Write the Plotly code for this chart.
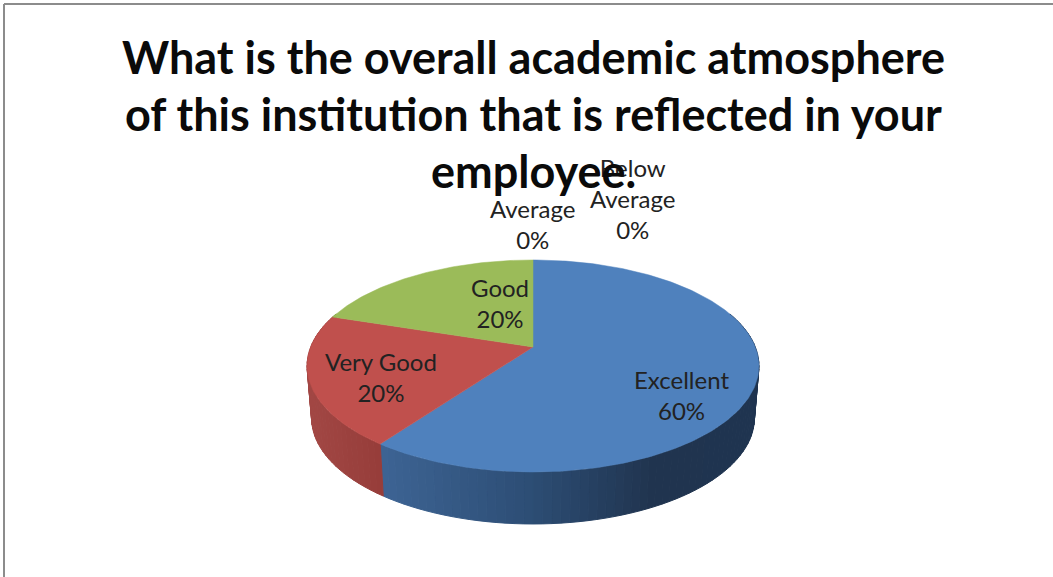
import math
import plotly.graph_objects as go

# --- data ---
categories = ["Excellent", "Very Good", "Good", "Average", "Below Average"]
values = [60, 20, 20, 0, 0]
title_lines = [
    "What is the overall academic atmosphere",
    "of this institution that is reflected in your",
    "employee.",
]
label_lines = [["Excellent"], ["Very Good"], ["Good"], ["Average"], ["Below", "Average"]]

# --- styles and layout ---
W, H = 1053, 577
top_colors = ["#4f81bd", "#c0504d", "#9bbb59", "#8064a2", "#4bacc6"]
side_stops = [
    [(0.0, "#3d6494"), (0.40, "#2d4d74"), (0.72, "#20344f"), (1.0, "#1f3450")],
    [(0.0, "#a24744"), (1.0, "#963d3a")],
    [(0.0, "#7d9648"), (1.0, "#7d9648")],
    [(0.0, "#665082"), (1.0, "#665082")],
    [(0.0, "#3c8a9f"), (1.0, "#3c8a9f")],
]
label_xy = [(681, 395), (381, 377), (500, 303), (532, 224), (632, 198)]
TITLE_Y = [57, 114, 171]
TITLE_SIZE = 45
LABEL_SIZE = 24
CX, CY = 533, 347
A, B, K = 222.3, 102.6, 0.179
DEPTH, BOTTOM_SCALE = 52, 0.98


def project(theta, depth=0.0, scale=1.0):
    """theta in degrees clockwise from 12 o'clock, on a tilted disc."""
    X, Y = math.sin(math.radians(theta)), math.cos(math.radians(theta))
    w = 1 + K * Y
    return CX + scale * A * X / w, CY + depth - B * Y / w


def hex_mix(stops, t):
    t = max(0.0, min(1.0, t))
    for (t0, c0), (t1, c1) in zip(stops, stops[1:]):
        if t <= t1:
            f = (t - t0) / (t1 - t0) if t1 > t0 else 0
            rgb = [
                round(int(c0[i:i + 2], 16) * (1 - f) + int(c1[i:i + 2], 16) * f)
                for i in (1, 3, 5)
            ]
            return "rgb(%d,%d,%d)" % tuple(rgb)
    return stops[-1][1]


total = sum(values)
spans = []
start = 0.0
for v in values:
    end = start + 360.0 * v / total
    spans.append((start, end))
    start = end

fig = go.Figure()

# wall of the pie, as narrow strips so the shading can run across it
STEP = 2.0
for i, (a0, a1) in enumerate(spans):
    if a1 <= a0:
        continue
    n = max(1, int((a1 - a0) / STEP))
    angles = [a0 + (a1 - a0) * j / n for j in range(n + 1)]
    front = [a for a in angles if math.cos(math.radians(a)) < 0.35]
    if len(front) < 2:
        continue
    xs_front = [project(a)[0] for a in front]
    lo, hi = min(xs_front), max(xs_front)
    for p, q in zip(front, front[1:]):
        x0, y0 = project(p)
        x1, y1 = project(q)
        x2, y2 = project(q, DEPTH, BOTTOM_SCALE)
        x3, y3 = project(p, DEPTH, BOTTOM_SCALE)
        col = hex_mix(side_stops[i], ((x0 + x1) / 2 - lo) / (hi - lo))
        fig.add_trace(go.Scatter(
            x=[x0, x1, x2, x3, x0], y=[y0, y1, y2, y3, y0],
            mode="lines", fill="toself", fillcolor=col,
            line=dict(color=col, width=1), hoverinfo="skip", showlegend=False,
        ))

# top face
for i, (a0, a1) in enumerate(spans):
    if a1 <= a0:
        continue
    n = max(2, int((a1 - a0) / 1.0))
    pts = [project(a0 + (a1 - a0) * j / n) for j in range(n + 1)]
    xs = [CX] + [p[0] for p in pts] + [CX]
    ys = [CY] + [p[1] for p in pts] + [CY]
    fig.add_trace(go.Scatter(
        x=xs, y=ys, mode="lines", fill="toself", fillcolor=top_colors[i],
        line=dict(color=top_colors[i], width=0.5), name=categories[i],
        hoverinfo="name", showlegend=False,
    ))

annotations = []
for lines, v, (x, y) in zip(label_lines, values, label_xy):
    pct = "%d%%" % round(100 * v / total)
    annotations.append(dict(
        x=x, y=y, xref="x", yref="y", text="<br>".join(lines + [pct]),
        showarrow=False, align="center", xanchor="center", yanchor="middle",
        font=dict(family="Lato, 'Open Sans', sans-serif", size=LABEL_SIZE, color="#222222"),
    ))
for line, y in zip(title_lines, TITLE_Y):
    annotations.append(dict(
        x=CX, y=y, xref="x", yref="y", text="<b>%s</b>" % line,
        showarrow=False, xanchor="center", yanchor="middle",
        font=dict(family="Lato, 'Open Sans', sans-serif", size=TITLE_SIZE, color="#0a0a0a"),
    ))

border = dict(color="#8c8c8c", width=2)
shapes = [
    dict(type="line", xref="x", yref="y", x0=4, y0=4, x1=W, y1=4, line=border),
    dict(type="line", xref="x", yref="y", x0=4, y0=4, x1=4, y1=H, line=border),
]

fig.update_layout(
    width=W, height=H, margin=dict(l=0, r=0, t=0, b=0),
    paper_bgcolor="white", plot_bgcolor="white", showlegend=False,
    xaxis=dict(range=[0, W], visible=False, fixedrange=True),
    yaxis=dict(range=[H, 0], visible=False, fixedrange=True),
    annotations=annotations, shapes=shapes,
)
fig.write_html(
    "out.html",
    config={"displayModeBar": False},
    post_script="document.body.style.margin='0';document.body.style.overflow='hidden';",
)
